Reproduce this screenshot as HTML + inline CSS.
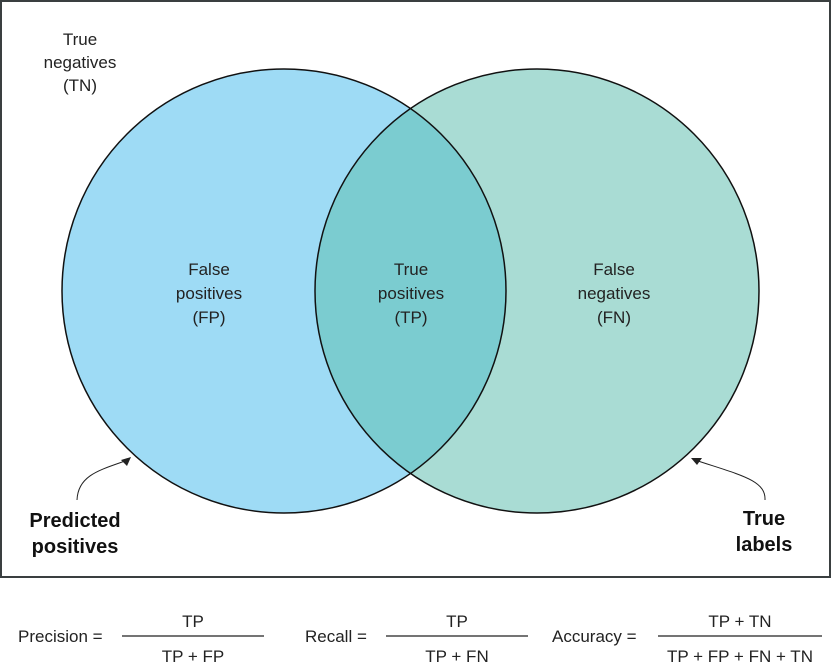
<!DOCTYPE html>
<html><head><meta charset="utf-8"><style>
html,body{margin:0;padding:0;background:#fff;}
svg{display:block;font-family:"Liberation Sans",sans-serif;}
</style></head><body>
<svg width="831" height="671" viewBox="0 0 831 671">
<rect x="1" y="1" width="829" height="576" fill="#fff" stroke="#3a3f40" stroke-width="2"/>
<defs><clipPath id="cl"><circle cx="284" cy="291" r="222"/></clipPath></defs>
<circle cx="284" cy="291" r="222" fill="#9edbf5"/>
<circle cx="537" cy="291" r="222" fill="#a9dcd4"/>
<circle cx="537" cy="291" r="222" fill="#7bccd0" clip-path="url(#cl)"/>
<circle cx="284" cy="291" r="222" fill="none" stroke="#111" stroke-width="1.5"/>
<circle cx="537" cy="291" r="222" fill="none" stroke="#111" stroke-width="1.5"/>
<g font-size="17" fill="#222" text-anchor="middle">
<text x="80" y="45"><tspan x="80">True</tspan><tspan x="80" dy="23">negatives</tspan><tspan x="80" dy="23">(TN)</tspan></text>
<text x="209" y="275"><tspan x="209">False</tspan><tspan x="209" dy="24">positives</tspan><tspan x="209" dy="24">(FP)</tspan></text>
<text x="411" y="275"><tspan x="411">True</tspan><tspan x="411" dy="24">positives</tspan><tspan x="411" dy="24">(TP)</tspan></text>
<text x="614" y="275"><tspan x="614">False</tspan><tspan x="614" dy="24">negatives</tspan><tspan x="614" dy="24">(FN)</tspan></text>
</g>
<g font-size="20" font-weight="bold" fill="#111" text-anchor="middle">
<text x="75" y="527"><tspan x="75">Predicted</tspan><tspan x="75" dy="26">positives</tspan></text>
<text x="764" y="525"><tspan x="764">True</tspan><tspan x="764" dy="26">labels</tspan></text>
</g>
<path d="M77,500 C78,475 100,470 128,460" fill="none" stroke="#222" stroke-width="1"/>
<path d="M131,457 L121,460 L127,466 Z" fill="#222"/>
<path d="M765,500 C766,480 740,475 695,460" fill="none" stroke="#222" stroke-width="1"/>
<path d="M691,458 L702,458 L697,465 Z" fill="#222"/>
<g font-size="17" fill="#222">
<text x="18" y="642">Precision =</text>
<line x1="122" y1="636" x2="264" y2="636" stroke="#222" stroke-width="1.2"/>
<text x="193" y="627" text-anchor="middle">TP</text>
<text x="193" y="662" text-anchor="middle">TP + FP</text>
<text x="305" y="642">Recall =</text>
<line x1="386" y1="636" x2="528" y2="636" stroke="#222" stroke-width="1.2"/>
<text x="457" y="627" text-anchor="middle">TP</text>
<text x="457" y="662" text-anchor="middle">TP + FN</text>
<text x="552" y="642">Accuracy =</text>
<line x1="658" y1="636" x2="822" y2="636" stroke="#222" stroke-width="1.2"/>
<text x="740" y="627" text-anchor="middle">TP + TN</text>
<text x="740" y="662" text-anchor="middle">TP + FP + FN + TN</text>
</g>
</svg>
</body></html>
